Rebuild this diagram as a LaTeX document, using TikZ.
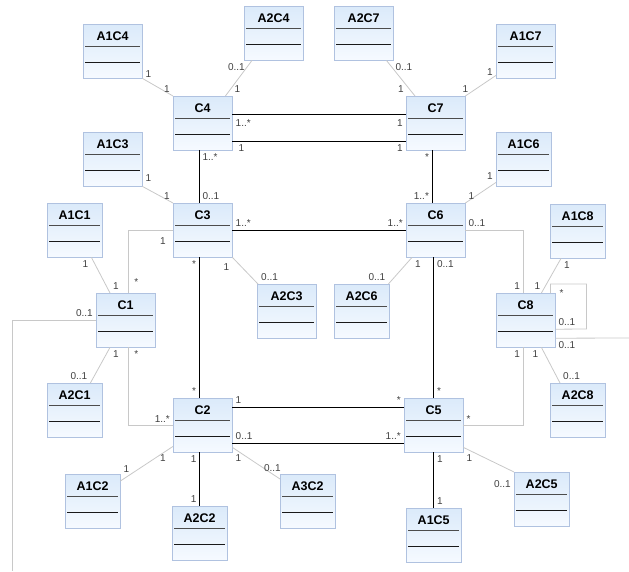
\documentclass[tikz,border=0pt]{standalone}
\usepackage{fontspec}
\setmainfont{Liberation Sans}
\definecolor{boxline}{RGB}{176,194,224}
\definecolor{boxtop}{RGB}{219,234,250}
\definecolor{boxbottom}{RGB}{246,250,255}
\definecolor{linkgray}{RGB}{200,200,200}
\definecolor{lblgray}{RGB}{64,64,64}

\begin{document}
\begin{tikzpicture}[x=1pt, y=-1pt]

    % Styles
    \tikzstyle{cls} = [rectangle, draw=boxline, top color=boxtop, bottom color=boxbottom, anchor=north west, minimum width=59pt, minimum height=54pt, inner xsep=0pt, inner ysep=0pt, text height=16pt, text depth=38pt, font=\fontsize{12.5}{13}\selectfont\bfseries,
        path picture={
            \draw[black!70, line width=1pt] ([xshift=2pt, yshift=-22pt]path picture bounding box.north west) -- ([xshift=-2pt, yshift=-22pt]path picture bounding box.north east);
            \draw[black!90, line width=1pt] ([xshift=2pt, yshift=-38pt]path picture bounding box.north west) -- ([xshift=-2pt, yshift=-38pt]path picture bounding box.north east);
        }]
    \tikzstyle{narrow} = [cls, minimum width=55pt]
    \tikzstyle{assoc} = [draw=black, line width=1pt]
    \tikzstyle{link} = [draw=linkgray, line width=0.8pt]
    \tikzstyle{lbl} = [font=\fontsize{10}{11}\selectfont, text=lblgray, inner sep=2.8pt]

    \useasboundingbox (0,0) rectangle (629,571);

    % Central classes
    \node[cls] (c4) at (173,96) {C4};
    \node[cls] (c7) at (406,96) {C7};
    \node[cls] (c3) at (173,203) {C3};
    \node[cls] (c6) at (406,203) {C6};
    \node[cls] (c1) at (96,293) {C1};
    \node[cls] (c8) at (496,293) {C8};
    \node[cls] (c2) at (173,398) {C2};
    \node[cls] (c5) at (404,398) {C5};

    % Attribute classes
    \node[cls] (a1c4) at (83,24) {A1C4};
    \node[cls] (a2c4) at (244,6) {A2C4};
    \node[cls] (a2c7) at (334,6) {A2C7};
    \node[cls] (a1c7) at (496,24) {A1C7};
    \node[cls] (a1c3) at (83,132) {A1C3};
    \node[narrow] (a1c6) at (496,132) {A1C6};
    \node[narrow] (a1c1) at (47,203) {A1C1};
    \node[narrow] (a1c8) at (550,204) {A1C8};
    \node[cls] (a2c3) at (257,284) {A2C3};
    \node[narrow] (a2c6) at (334,284) {A2C6};
    \node[narrow] (a2c1) at (47,383) {A2C1};
    \node[narrow] (a2c8) at (550,383) {A2C8};
    \node[narrow] (a1c2) at (65,474) {A1C2};
    \node[narrow] (a3c2) at (280,474) {A3C2};
    \node[narrow] (a2c5) at (514,472) {A2C5};
    \node[narrow] (a2c2) at (172,506) {A2C2};
    \node[narrow] (a1c5) at (406,508) {A1C5};

    % Loose ends
    \coordinate (offR) at (629,338);
    \coordinate (offL) at (12,571);

    % Associations
    \draw[assoc] ([yshift=9pt]c4.east) -- ([yshift=9pt]c7.west)
        node[lbl, at start, anchor=north west, yshift=-2pt] {1..*}
        node[lbl, at end, anchor=north east, yshift=-2pt] {1};
    \draw[assoc] ([yshift=-18pt]c4.east) -- ([yshift=-18pt]c7.west)
        node[lbl, at start, anchor=north west, xshift=3pt] {1}
        node[lbl, at end, anchor=north east] {1};
    \draw[assoc] ([xshift=-3.5pt]c4.south) -- ([xshift=-3.5pt]c3.north)
        node[lbl, at start, anchor=north west] {1..*}
        node[lbl, at end, anchor=south west] {0..1};
    \draw[assoc] ([xshift=-3.5pt]c7.south) -- ([xshift=-3.5pt]c6.north)
        node[lbl, at start, anchor=north east] {*}
        node[lbl, at end, anchor=south east] {1..*};
    \draw[assoc] (c3.east) -- (c6.west)
        node[lbl, at start, anchor=south west] {1..*}
        node[lbl, at end, anchor=south east] {1..*};
    \draw[assoc] ([xshift=-3.5pt]c3.south) -- ([xshift=-3.5pt]c2.north)
        node[lbl, at start, anchor=north east] {*}
        node[lbl, at end, anchor=south east] {*};
    \draw[assoc] (c6.south -| c5.north) -- (c5.north)
        node[lbl, at start, anchor=north west] {0..1}
        node[lbl, at end, anchor=south west] {*};
    \draw[assoc] ([yshift=18pt]c2.east) -- ([yshift=18pt]c5.west)
        node[lbl, at start, anchor=south west] {1}
        node[lbl, at end, anchor=south east] {*};
    \draw[assoc] ([yshift=-18pt]c2.east) -- ([yshift=-18pt]c5.west)
        node[lbl, at start, anchor=south west] {0..1}
        node[lbl, at end, anchor=south east] {1..*};
    \draw[assoc] (c2.south -| a2c2.north) -- (a2c2.north)
        node[lbl, at start, anchor=north east] {1}
        node[lbl, at end, anchor=south east] {1};
    \draw[assoc] (c5.south -| a1c5.north) -- (a1c5.north)
        node[lbl, at start, anchor=north west] {1}
        node[lbl, at end, anchor=south west] {1};

    % Attribute links
    \draw[link] (a1c4.south east) -- (c4.north west)
        node[lbl, at start, anchor=south west, yshift=-2pt] {1}
        node[lbl, at end, anchor=south east] {1};
    \draw[link] ([xshift=8pt]a2c4.south west) -- ([xshift=-7pt]c4.north east)
        node[lbl, at start, anchor=north east, xshift=-4pt] {0..1}
        node[lbl, at end, anchor=south west, xshift=6pt] {1};
    \draw[link] ([xshift=-7pt]a2c7.south east) -- ([xshift=9pt]c7.north west)
        node[lbl, at start, anchor=north west, xshift=6pt] {0..1}
        node[lbl, at end, anchor=south east, xshift=-8pt] {1};
    \draw[link] ([yshift=3pt]a1c7.south west) -- (c7.north east)
        node[lbl, at start, anchor=east, yshift=3pt] {1}
        node[lbl, at end, anchor=south] {1};
    \draw[link] (a1c3.south east) -- (c3.north west)
        node[lbl, at start, anchor=south west, yshift=2pt] {1}
        node[lbl, at end, anchor=south east] {1};
    \draw[link] ([yshift=4pt]a1c6.south west) -- (c6.north east)
        node[lbl, at start, anchor=south east] {1}
        node[lbl, at end, anchor=south west] {1};
    \draw[link] ([xshift=-11pt]a1c1.south east) -- ([xshift=14pt]c1.north west)
        node[lbl, at start, anchor=north east] {1}
        node[lbl, at end, anchor=south west] {1};
    \draw[link] (c3.west) -| ([xshift=2.5pt]c1.north)
        node[lbl, at start, anchor=north east, xshift=-4pt, yshift=-4pt] {1}
        node[lbl, at end, anchor=south west, xshift=3pt, yshift=4pt] {*};
    \draw[link] (c3.south east) -- ([xshift=1pt]a2c3.north west)
        node[lbl, at start, anchor=north east, yshift=-3pt] {1}
        node[lbl, at end, anchor=south west] {0..1};
    \draw[link] ([xshift=6pt]c6.south west) -- ([xshift=-1pt]a2c6.north east)
        node[lbl, at start, anchor=north west] {1}
        node[lbl, at end, anchor=south east] {0..1};
    \draw[link] (c6.east) -| ([xshift=-2.5pt]c8.north)
        node[lbl, at start, anchor=south west] {0..1}
        node[lbl, at end, anchor=south east] {1};
    \draw[link] ([xshift=11pt]a1c8.south west) -- ([xshift=-14pt]c8.north east)
        node[lbl, at start, anchor=north west] {1}
        node[lbl, at end, anchor=south east, xshift=2pt] {1};
    \draw[link] ([xshift=-5pt]c8.north east) node[lbl, anchor=west, xshift=6pt] {*}
        -- ++(0,-9) -- ++(36,0) -- ++(0,45) -- ([yshift=-9pt]c8.east)
        node[lbl, anchor=south west] {0..1};
    \draw[link] ([yshift=-18pt]c8.east) -- (offR)
        node[lbl, at start, anchor=north west] {0..1};
    \draw[link] (c1.west) -| (offL)
        node[lbl, at start, anchor=south east] {0..1};
    \draw[link] ([xshift=-14pt]c8.south east) -- ([xshift=10pt]a2c8.north west)
        node[lbl, at start, anchor=north east] {1}
        node[lbl, at end, anchor=south west] {0..1};
    \draw[link] ([xshift=-2.5pt]c8.south) |- (c5.east)
        node[lbl, at start, anchor=north east] {1}
        node[lbl, at end, anchor=south west] {*};
    \draw[link] ([xshift=14pt]c1.south west) -- ([xshift=-12pt]a2c1.north east)
        node[lbl, at start, anchor=north west] {1}
        node[lbl, at end, anchor=south east] {0..1};
    \draw[link] ([xshift=2.5pt]c1.south) |- (c2.west)
        node[lbl, at start, anchor=north west, xshift=3pt] {*}
        node[lbl, at end, anchor=south east] {1..*};
    \draw[link] ([yshift=6pt]c2.south west) -- ([yshift=-7pt]a1c2.north east)
        node[lbl, at start, anchor=north east, xshift=-4pt, yshift=-5pt] {1}
        node[lbl, at end, anchor=south west, yshift=5pt] {1};
    \draw[link] ([yshift=5pt]c2.south east) -- ([yshift=-5pt]a3c2.north west)
        node[lbl, at start, anchor=north west, yshift=-4pt] {1}
        node[lbl, at end, anchor=south east, xshift=4pt, yshift=4pt] {0..1};
    \draw[link] ([yshift=5pt]c5.south east) -- (a2c5.north west)
        node[lbl, at start, anchor=north west, yshift=-4pt] {1}
        node[lbl, at end, anchor=north east, yshift=-5pt] {0..1};

\end{tikzpicture}
\end{document}
